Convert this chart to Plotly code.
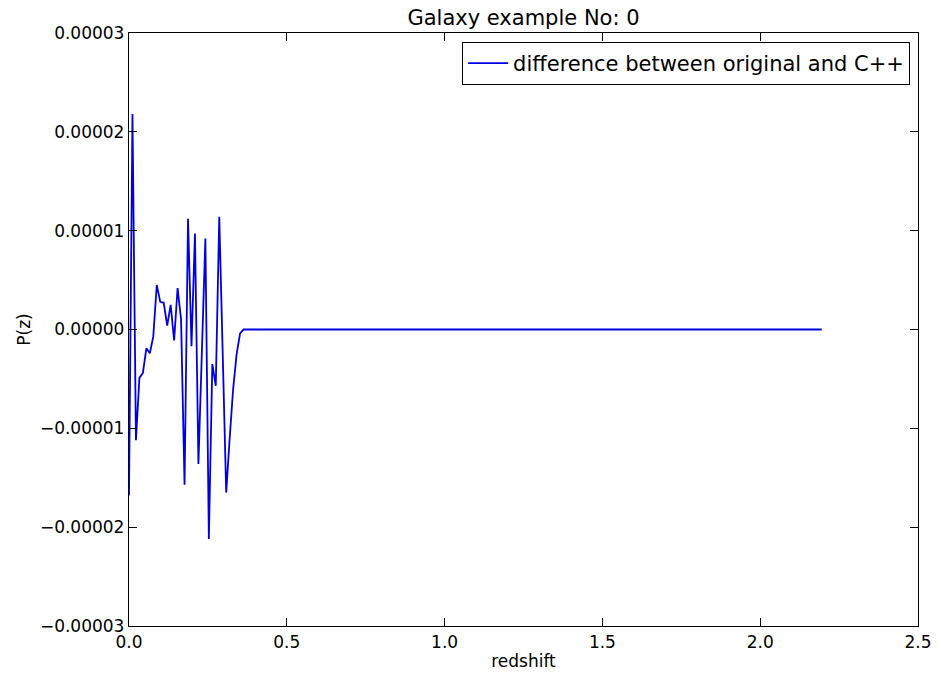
import plotly.graph_objects as go

# redshift grid points
redshift = [0.000, 0.011, 0.022, 0.033, 0.044, 0.055, 0.066, 0.077, 0.088, 0.099,
            0.110, 0.121, 0.132, 0.143, 0.154, 0.165, 0.176, 0.187, 0.198, 0.209,
            0.220, 0.231, 0.242, 0.253, 0.264, 0.275, 0.286, 0.297, 0.308, 0.319,
            0.330, 0.341, 0.352, 0.363, 2.195]
# difference values in units of 1e-5
diff_e5 = [-1.68, 2.18, -1.12, -0.49, -0.44, -0.19, -0.24, -0.07, 0.45, 0.28,
           0.27, 0.04, 0.25, -0.11, 0.42, 0.10, -1.57, 1.12, -0.17, 0.97,
           -1.36, -0.20, 0.92, -2.12, -0.35, -0.57, 1.14, -0.25, -1.65, -1.10,
           -0.60, -0.25, -0.04, 0.00, 0.00]
diff = [v * 1e-5 for v in diff_e5]

y_tickvals = [-3e-5, -2e-5, -1e-5, 0, 1e-5, 2e-5, 3e-5]
y_ticktext = ["\u22120.00003", "\u22120.00002", "\u22120.00001", "0.00000",
              "0.00001", "0.00002", "0.00003"]
x_tickvals = [0.0, 0.5, 1.0, 1.5, 2.0, 2.5]
x_ticktext = ["0.0", "0.5", "1.0", "1.5", "2.0", "2.5"]

FONT = "DejaVu Sans"

fig = go.Figure()
fig.add_trace(go.Scatter(
    x=redshift, y=diff, mode="lines",
    line=dict(color="#0000e0", width=1.8),
    name="difference between original and C++",
))

fig.update_layout(
    width=938, height=679,
    paper_bgcolor="white", plot_bgcolor="white",
    margin=dict(l=129, r=20, t=33, b=53),
    font=dict(family=FONT, color="black", size=17),
    title=dict(text="Galaxy example No: 0", x=0.5, xref="paper", xanchor="center",
               y=1 - 18 / 679, yanchor="middle", font=dict(size=21)),
    showlegend=True,
    legend=dict(x=0.99, xanchor="right", y=0.985, yanchor="top",
                bordercolor="black", borderwidth=1, bgcolor="white",
                font=dict(size=21), itemwidth=40),
)
fig.update_xaxes(
    range=[0, 2.5], tickvals=x_tickvals, ticktext=x_ticktext,
    ticks="inside", ticklen=8, tickcolor="black", mirror="ticks",
    showline=True, linecolor="black", linewidth=1.3, showgrid=False,
    zeroline=False, automargin=False,
    title=dict(text="redshift", font=dict(size=17), standoff=4),
    tickfont=dict(size=17),
)
fig.update_yaxes(
    range=[-3e-5, 3e-5], tickvals=y_tickvals, ticktext=y_ticktext,
    ticks="inside", ticklen=8, tickcolor="black", mirror="ticks",
    showline=True, linecolor="black", linewidth=1.3, showgrid=False,
    zeroline=False, automargin=False,
    title=dict(text="P(z)", font=dict(size=17), standoff=4),
    tickfont=dict(size=17),
)

fig.write_html("out.html", config={"displayModeBar": False},
               post_script="document.body.style.margin='0px';")
